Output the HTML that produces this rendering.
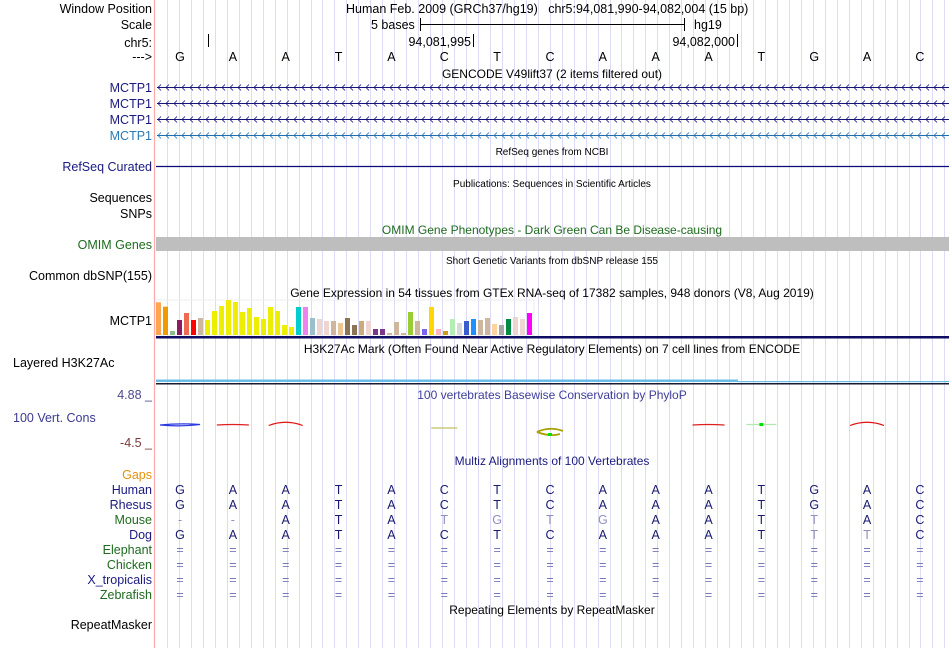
<!DOCTYPE html>
<html><head><meta charset="utf-8"><style>
html,body{margin:0;padding:0;background:#fff;}
svg{display:block;font-family:"Liberation Sans",Arial,sans-serif;}
</style></head><body>
<svg id="c" width="950" height="648" viewBox="0 0 950 648" xmlns="http://www.w3.org/2000/svg">
<rect width="950" height="648" fill="#fff"/>
<g id="grid"></g>
<line x1="154.5" y1="0" x2="154.5" y2="648" stroke="#ffaaaa" stroke-width="1.2"/>

<g font-size="12.5" text-anchor="end" fill="#000">
<text x="152" y="13">Window Position</text>
<text x="152" y="29">Scale</text>
<text x="152" y="47">chr5:</text>
<text x="152" y="61">---&gt;</text>
<text x="152" y="92" fill="#1a1a80">MCTP1</text>
<text x="152" y="108" fill="#1a1a80">MCTP1</text>
<text x="152" y="124" fill="#1a1a80">MCTP1</text>
<text x="152" y="140" fill="#2a7ab8">MCTP1</text>
<text x="152" y="171" fill="#1a1a80">RefSeq Curated</text>
<text x="152" y="202">Sequences</text>
<text x="152" y="218">SNPs</text>
<text x="152" y="249" fill="#1f6b1f">OMIM Genes</text>
<text x="152" y="280">Common dbSNP(155)</text>
<text x="152" y="325">MCTP1</text>
<text x="13" y="367" text-anchor="start">Layered H3K27Ac</text>
<text x="152" y="399" fill="#4a4a8c">4.88 _</text>
<text x="13" y="422" text-anchor="start" fill="#3a3a90">100 Vert. Cons</text>
<text x="152" y="447" fill="#7a3a3a">-4.5 _</text>
<text x="152" y="479" fill="#e8900f">Gaps</text>
<text x="152" y="494" fill="#1a1a80">Human</text>
<text x="152" y="509" fill="#1a1a80">Rhesus</text>
<text x="152" y="524" fill="#1f6b1f">Mouse</text>
<text x="152" y="539" fill="#1a1a80">Dog</text>
<text x="152" y="554" fill="#1f6b1f">Elephant</text>
<text x="152" y="569" fill="#1f6b1f">Chicken</text>
<text x="152" y="584" fill="#1a1a80">X_tropicalis</text>
<text x="152" y="599" fill="#1f6b1f">Zebrafish</text>
<text x="152" y="629">RepeatMasker</text>
</g>

<g font-size="12.5" fill="#000">
<text x="346" y="13" xml:space="preserve">Human Feb. 2009 (GRCh37/hg19)   chr5:94,081,990-94,082,004 (15 bp)</text>
<text x="371" y="29">5 bases</text>
<line x1="420" y1="24.5" x2="684" y2="24.5" stroke="#000"/>
<line x1="420.5" y1="18" x2="420.5" y2="31" stroke="#000"/>
<line x1="684.5" y1="18" x2="684.5" y2="31" stroke="#000"/>
<text x="694" y="29">hg19</text>
<line x1="208.5" y1="34" x2="208.5" y2="47" stroke="#000"/>
<text x="471" y="46" text-anchor="end">94,081,995</text>
<line x1="473.5" y1="34" x2="473.5" y2="47" stroke="#000"/>
<text x="735" y="46" text-anchor="end">94,082,000</text>
<line x1="737.5" y1="34" x2="737.5" y2="47" stroke="#000"/>
</g>
<g id="bases" font-size="12.5" text-anchor="middle"></g>

<g font-size="12" text-anchor="middle">
<text x="552" y="78">GENCODE V49lift37 (2 items filtered out)</text>
<text x="552" y="155" font-size="10">RefSeq genes from NCBI</text>
<text x="552" y="187" font-size="10">Publications: Sequences in Scientific Articles</text>
<text x="552" y="234" fill="#1f6b1f">OMIM Gene Phenotypes - Dark Green Can Be Disease-causing</text>
<text x="552" y="264" font-size="10">Short Genetic Variants from dbSNP release 155</text>
<text x="552" y="297">Gene Expression in 54 tissues from GTEx RNA-seq of 17382 samples, 948 donors (V8, Aug 2019)</text>
<text x="552" y="353">H3K27Ac Mark (Often Found Near Active Regulatory Elements) on 7 cell lines from ENCODE</text>
<text x="552" y="399" fill="#3f3f9a">100 vertebrates Basewise Conservation by PhyloP</text>
<text x="552" y="465" fill="#1a1a80">Multiz Alignments of 100 Vertebrates</text>
<text x="552" y="614">Repeating Elements by RepeatMasker</text>
</g>

<g id="genes"></g>
<line x1="156" y1="166.5" x2="949" y2="166.5" stroke="#0c0c78" stroke-width="1.2"/>
<rect x="156" y="237" width="793" height="14" fill="#bebebe"/>
<rect x="156" y="300" width="378" height="35" fill="none" stroke="#eeeeee"/>
<g id="gtex"></g>
<rect x="156" y="336" width="793" height="2.5" fill="#0c0c60"/>
<rect x="156" y="379.5" width="582" height="2.5" fill="#6bbde8"/>
<rect x="738" y="381" width="211" height="1.2" fill="#6bbde8"/>
<rect x="156" y="383" width="793" height="1.5" fill="#1a1a30"/>
<g id="cons"></g>
<g id="aln" font-size="12.5" text-anchor="middle"></g>
</svg>
<script>
const bases = ["G","A","A","T","A","C","T","C","A","A","A","T","G","A","C"];
const species = ["Human","Rhesus","Mouse","Dog","Elephant","Chicken","X_tropicalis","Zebrafish"];
const alnHuman  = "GAATACTCAAATGAC";
const alnRhesus = "GAATACTCAAATGAC";
const alnMouse  = "--ATATGTGAATTAC";
const alnDog    = "GAATACTCAAATTTC";
const alnEq     = "===============";
const mouseFaded = [5,6,7,8,12];
const dogFaded = [12,13];
const gtexValues = [32.7,28.3,4,15,22,15,17,15,24,29,35,33,23,27,18,16,28,24,10,8,28,28,17,16,14,14,12,17,10,14,14,6,6,2,13,2,23,14,6,28,6,4,16,12,14,16,15,17,11,10,16,18,16,22];
const gtexColors = ["#FFA54F","#EE9A00","#8FBC8F","#8B1C62","#EE6A50","#FF0000","#CDB79E","#EEEE00","#EEEE00","#EEEE00","#EEEE00","#EEEE00","#EEEE00","#EEEE00","#EEEE00","#EEEE00","#EEEE00","#EEEE00","#EEEE00","#EEEE00","#00CDCD","#EE82EE","#9AC0CD","#EED5D2","#EED5D2","#CDB79E","#EEC591","#8B7355","#8B7355","#CDAA7D","#EED5D2","#7A378B","#7A378B","#CDB79E","#CDB79E","#CDB79E","#9ACD32","#CDB79E","#7A67EE","#FFD700","#FFB6C1","#CD9B1D","#B4EEB4","#D9D9D9","#3A5FCD","#1E90FF","#CDB79E","#CDB79E","#FFD39B","#A6A6A6","#008B45","#EED5D2","#EED5D2","#FF00FF"];
const consIdx = [0,1,2,5,7,10,11,13];
const consKind = ["blue","red","redarch","olive","olivering","red","green","redarch"];

const NS="http://www.w3.org/2000/svg";
const X0=153.6, BW=52.85;
const bx = i => X0 + BW*(i+0.5);
const gy = v => 335 - v;
function mk(tag, attrs, parent){const e=document.createElementNS(NS,tag);for(const k in attrs)e.setAttribute(k,attrs[k]);parent.appendChild(e);return e;}

const grid=document.getElementById('grid');
for(let x=167;x<949;x+=11.96){
  const l=mk('line',{x1:Math.round(x)+0.5,y1:0,x2:Math.round(x)+0.5,y2:648,stroke:'#dcdcf4','stroke-width':1},grid);
  
  
}
const bg=document.getElementById('bases');
bases.forEach((b,i)=>{
  const t=mk('text',{x:bx(i),y:61},bg);t.textContent=b;
  
  
});
const genes=document.getElementById('genes');
[[87,'#14147a'],[103,'#14147a'],[119,'#14147a'],[135,'#1f6fb0']].forEach(([y,c],r)=>{
  const g=mk('g',{stroke:c,fill:'none','stroke-width':1.1},genes);
  
  
  mk('line',{x1:157,y1:y+0.5,x2:949,y2:y+0.5},g);
  let d='';
  for(let x=158;x<949;x+=8){d+=`M${x+3},${y-2.5}L${x},${y+0.5}L${x+3},${y+3.5}`;}
  mk('path',{d:d,'stroke-width':0.8},g);
});
const gt=document.getElementById('gtex');
gtexValues.forEach((v,i)=>{
  const r=mk('rect',{x:156+i*7,y:gy(v),width:5,height:v,fill:gtexColors[i]},gt);
  
  
});
const cons=document.getElementById('cons');
consIdx.forEach((i,k)=>{
  const x=bx(i), kind=consKind[k]; let d, c;
  if(kind==='blue'){c='#2a3ae0';d=`M${x-20},425 Q${x},423 ${x+20},424.5 Q${x},427 ${x-20},425`;}
  else if(kind==='red'){c='#e02020';d=`M${x-16},425 Q${x},424 ${x+16},425`;}
  else if(kind==='redarch'){c='#e01010';d=`M${x-17},425.5 Q${x},419 ${x+17},425.5`;}
  else if(kind==='olive'){c='#c0c060';d=`M${x-13},428 L${x+13},428`;}
  else if(kind==='olivering'){c='#a8a000';d=`M${x-13},432 Q${x},426 ${x+13},431 M${x-13},432 Q${x},437 ${x+10},434`;}
  else {c='#b0e8b0';d=`M${x-15},424.5 L${x+15},424.5`;}
  const p=mk('path',{d:d,stroke:c,fill:'none','stroke-width':kind==='olivering'?1.8:1.2},cons);
  
  
  if(kind==='olivering'||kind==='green'){mk('rect',{x:x-2,y:kind==='green'?423:433,width:4,height:3,fill:'#00e000'},cons);}
});
const aln=document.getElementById('aln');
const rows=[alnHuman,alnRhesus,alnMouse,alnDog,alnEq,alnEq,alnEq,alnEq];
rows.forEach((s,r)=>{
  const y=494+15*r;
  for(let i=0;i<s.length;i++){
    let c='#1a1a70';
    if(r>=4) c='#7878b8';
    if(r===2&&(mouseFaded.includes(i)||s[i]==='-')) c='#9090c0';
    if(r===3&&dogFaded.includes(i)) c='#9090c0';
    const t=mk('text',{x:bx(i),y:y,fill:c},aln);
    t.textContent=s[i];
    
    
  }
});
</script>
</body></html>
